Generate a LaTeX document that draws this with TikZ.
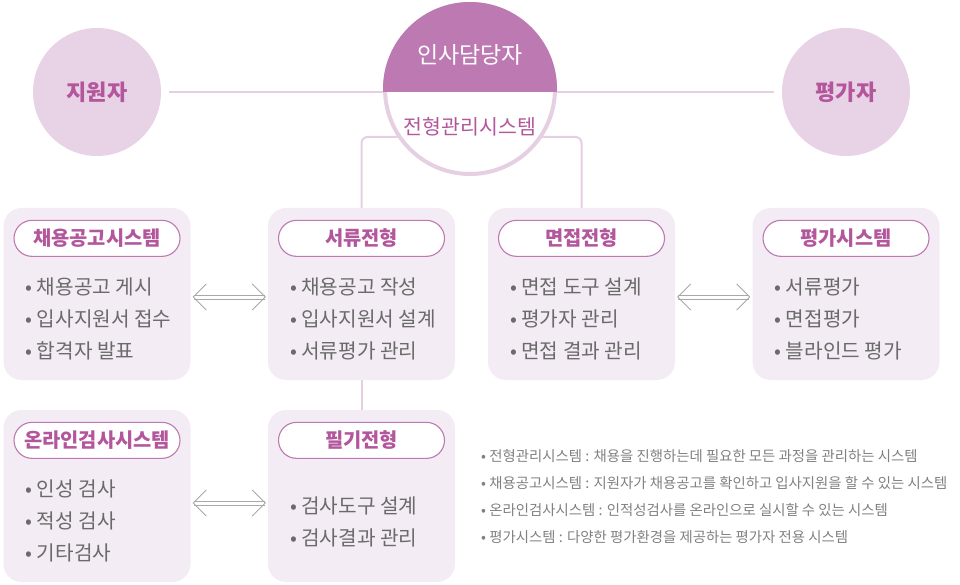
\documentclass[tikz,border=0pt]{standalone}
\usepackage{fontspec}
\setmainfont{Noto Sans CJK KR}
\usetikzlibrary{arrows.meta,positioning}
\definecolor{hrpurple}{HTML}{BD79B2}
\definecolor{titlepurple}{HTML}{B3569C}
\definecolor{softpink}{HTML}{E8D2E6}
\definecolor{boxpink}{HTML}{F4ECF4}
\definecolor{linepink}{HTML}{E6CFE3}
\definecolor{itemgray}{HTML}{6A6A6A}
\definecolor{arrowgray}{HTML}{A8A8A8}

\begin{document}
\begin{tikzpicture}[x=1pt,y=1pt,
            actor/.style={circle,fill=softpink,minimum size=128pt,inner sep=0,text=titlepurple,font=\bfseries\fontsize{22}{26}\selectfont},
            hrcircle/.style={circle,draw=linepink,line width=4pt,fill=white,minimum size=170pt,inner sep=0},
            stage/.style={rectangle,rounded corners=18pt,fill=boxpink,minimum width=187pt,minimum height=172pt,inner sep=0},
            pill/.style={rectangle,rounded corners=18pt,draw=hrpurple,line width=1.1pt,fill=white,minimum width=166pt,minimum height=36pt,inner sep=0,text=titlepurple,font=\bfseries\fontsize{19.8}{22}\selectfont},
            items/.style={align=left,inner sep=0,text=itemgray,font=\fontsize{20.2}{32}\selectfont},
            conn/.style={draw=linepink,line width=2pt},
            dbl/.style={draw=arrowgray,double=white,double distance=3pt,line width=1pt,shorten <=2pt,shorten >=2pt,
              {Straight Barb[length=13pt,width=26pt,line width=0.9pt]}-{Straight Barb[length=13pt,width=26pt,line width=0.9pt]}},
            note/.style={align=left,inner sep=0,text=itemgray!85,font=\fontsize{14.4}{27}\selectfont}
          ]
          \useasboundingbox (0,0) rectangle (960,-585);

          %actors
          \node[actor] (app) at (97,-92) {지원자};
          \node[actor] (eva) at (846,-92) {평가자};

          %stages
          \node[stage] (rec) at (97,-294) {};
          \node[stage] (doc) at (361.5,-294) {};
          \node[stage] (itv) at (581.5,-294) {};
          \node[stage] (evs) at (846,-294) {};
          \node[stage] (onl) at (97,-496) {};
          \node[stage] (wri) at (361.5,-496) {};

          %titles
          \node[pill,below=12pt of rec.north] (recT) {채용공고시스템};
          \node[pill,below=12pt of doc.north] (docT) {서류전형};
          \node[pill,below=12pt of itv.north] (itvT) {면접전형};
          \node[pill,below=12pt of evs.north] (evsT) {평가시스템};
          \node[pill,below=12pt of onl.north] (onlT) {온라인검사시스템};
          \node[pill,below=12pt of wri.north] (wriT) {필기전형};

          %items
          \node[items,below right=70pt and 22pt of rec.north west] (recL) {• 채용공고 게시\\• 입사지원서 접수\\• 합격자 발표};
          \node[items,below right=70pt and 22pt of doc.north west] (docL) {• 채용공고 작성\\• 입사지원서 설계\\• 서류평가 관리};
          \node[items,below right=70pt and 22pt of itv.north west] (itvL) {• 면접 도구 설계\\• 평가자 관리\\• 면접 결과 관리};
          \node[items,below right=70pt and 22pt of evs.north west] (evsL) {• 서류평가\\• 면접평가\\• 블라인드 평가};
          \node[items,below right=70pt and 22pt of onl.north west] (onlL) {• 인성 검사\\• 적성 검사\\• 기타검사};
          \node[items,below right=87pt and 22pt of wri.north west] (wriL) {• 검사도구 설계\\• 검사결과 관리};

          %links
          \coordinate (hrb) at (470,-137);
          \draw[conn,line width=2.6pt,shorten <=8pt,shorten >=8pt] (app) -- (eva);
          \draw[conn,rounded corners=6pt] (doc.north) |- (hrb) -| (itv.north);
          \draw[conn] (doc.south) -- (wri.north);
          \draw[dbl] ([yshift=-3pt]rec.east) -- ([yshift=-3pt]doc.west);
          \draw[dbl] ([yshift=-3pt]itv.east) -- ([yshift=-3pt]evs.west);
          \draw[dbl] ([yshift=-7pt]onl.east) -- ([yshift=-7pt]wri.west);

          %hr manager
          \node[hrcircle] (hr) at (470,-89) {};
          \begin{scope}
            \clip (hr.center) circle[radius=87pt];
            \fill[hrpurple] (hr.center) ++(-90,-3) rectangle ++(180,95);
          \end{scope}
          \node[text=white,font=\fontsize{23}{26}\selectfont] (hrT) at (470,-55) {인사담당자};
          \node[text=titlepurple,font=\fontsize{20.5}{24}\selectfont] (hrS) at (470,-127) {전형관리시스템};

          %notes
          \node[note,anchor=north west] (legend) at (481,-449) {• 전형관리시스템 : 채용을 진행하는데 필요한 모든 과정을 관리하는 시스템\\• 채용공고시스템 : 지원자가 채용공고를 확인하고 입사지원을 할 수 있는 시스템\\• 온라인검사시스템 : 인적성검사를 온라인으로 실시할 수 있는 시스템\\• 평가시스템 : 다양한 평가환경을 제공하는 평가자 전용 시스템};

      \end{tikzpicture}
\end{document}
